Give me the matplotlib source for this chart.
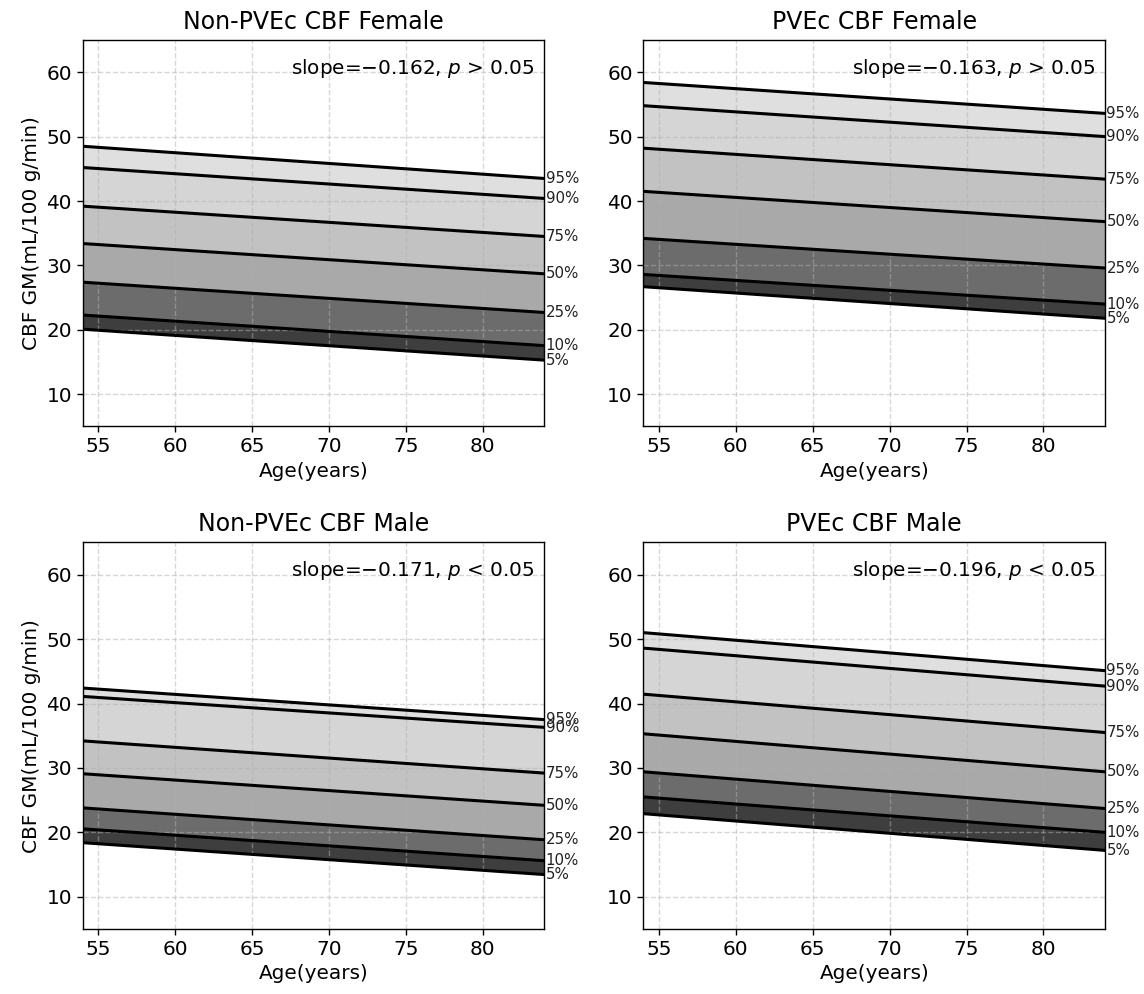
import matplotlib
matplotlib.use("Agg")
import matplotlib.pyplot as plt

# ---- data ----
ages = [54, 84]
percentiles = ["5%", "10%", "25%", "50%", "75%", "90%", "95%"]

titles = ["Non-PVEc CBF Female", "PVEc CBF Female",
          "Non-PVEc CBF Male", "PVEc CBF Male"]
slopes = ["\u22120.162", "\u22120.163", "\u22120.171", "\u22120.196"]
pvals = ["> 0.05", "> 0.05", "< 0.05", "< 0.05"]

# values at age 54 (start) and age 84 (end), for percentiles 5..95
nonpvec_f_start = [20.1, 22.3, 27.4, 33.4, 39.2, 45.2, 48.5]
nonpvec_f_end = [15.3, 17.55, 22.7, 28.7, 34.5, 40.4, 43.5]
pvec_f_start = [26.7, 28.6, 34.2, 41.5, 48.2, 54.8, 58.4]
pvec_f_end = [21.8, 24.0, 29.6, 36.8, 43.4, 50.0, 53.6]
nonpvec_m_start = [18.4, 20.55, 23.8, 29.1, 34.2, 41.1, 42.4]
nonpvec_m_end = [13.45, 15.6, 18.85, 24.2, 29.2, 36.3, 37.5]
pvec_m_start = [22.9, 25.5, 29.4, 35.3, 41.45, 48.6, 51.0]
pvec_m_end = [17.2, 20.0, 23.7, 29.4, 35.5, 42.7, 45.1]

starts = [nonpvec_f_start, pvec_f_start, nonpvec_m_start, pvec_m_start]
ends = [nonpvec_f_end, pvec_f_end, nonpvec_m_end, pvec_m_end]

band_colors = ["#3e3e3e", "#6c6c6c", "#a9a9a9", "#c2c2c2", "#d5d5d5", "#dfdfdf"]

fig, axes = plt.subplots(2, 2, figsize=(11.44, 9.94), dpi=100)
fig.subplots_adjust(left=0.0723, right=0.9659, top=0.9598, bottom=0.0654,
                    wspace=0.215, hspace=0.30)

for i, ax in enumerate(axes.flat):
    s = starts[i]
    e = ends[i]
    lines = [[s[k], e[k]] for k in range(len(percentiles))]
    for k in range(len(percentiles) - 1):
        ax.fill_between(ages, lines[k], lines[k + 1], color=band_colors[k],
                        linewidth=0, zorder=1)
    for k, lab in enumerate(percentiles):
        ax.plot(ages, lines[k], color="black", linewidth=2.2, zorder=3)
        ax.annotate(lab, xy=(ages[-1], lines[k][-1]), xytext=(1, 0),
                    textcoords="offset points", ha="left", va="center",
                    fontsize=10.8, color="#222222", annotation_clip=False)
    ax.set_xlim(54, 84)
    ax.set_ylim(5, 65)
    ax.set_xticks([55, 60, 65, 70, 75, 80])
    ax.set_yticks([10, 20, 30, 40, 50, 60])
    ax.tick_params(labelsize=14.4, length=4.2, width=1.0)
    ax.grid(True, linestyle="--", color="#b0b0b0", alpha=0.5, linewidth=1.0)
    ax.set_title(titles[i], fontsize=17, pad=8)
    ax.set_xlabel("Age(years)", fontsize=14.4)
    if i % 2 == 0:
        ax.set_ylabel("CBF GM(mL/100 g/min)", fontsize=14.4)
    ax.text(0.98, 0.957, "slope=" + slopes[i] + ", $p$ " + pvals[i],
            transform=ax.transAxes, ha="right", va="top", fontsize=14.4)
    for sp in ax.spines.values():
        sp.set_linewidth(1.0)

fig.savefig("out.png", dpi=100)
